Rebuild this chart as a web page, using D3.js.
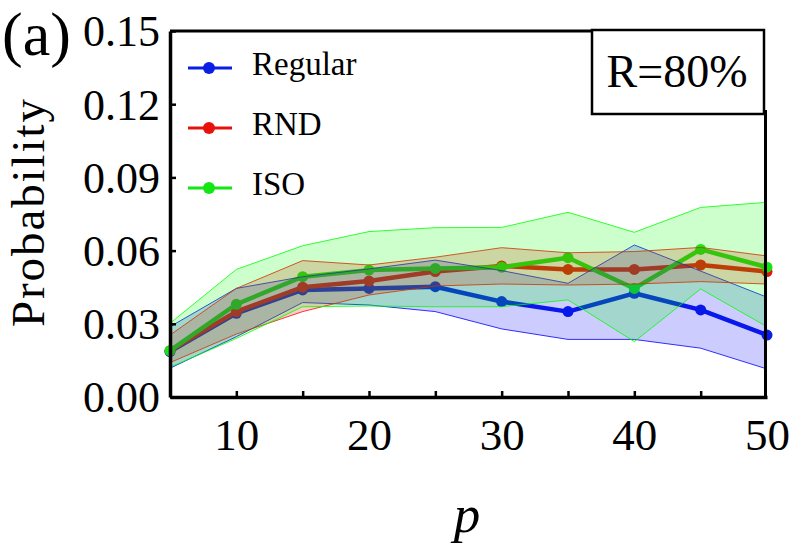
<!DOCTYPE html>
<html>
<head>
<meta charset="utf-8">
<script src="https://cdn.jsdelivr.net/npm/d3@7"></script>
<style>
body { margin:0; background:#fff; }
text { font-family: "Liberation Serif", serif; fill:#000; }
.axis path, .axis line { stroke:#000; }
</style>
</head>
<body>
<div id="chart"></div>
<script>
// x values (p)
var pVals = [5,10,15,20,25,30,35,40,45,50];

// mean probability per series
var regMean = [0.0186,0.0343,0.0439,0.0445,0.0452,0.0391,0.0350,0.0425,0.0357,0.0254];
var rndMean = [0.0190,0.0350,0.0450,0.0475,0.0514,0.0537,0.0523,0.0523,0.0541,0.0514];
var isoMean = [0.0190,0.0380,0.0493,0.0520,0.0527,0.0532,0.0571,0.0445,0.0605,0.0532];

// band limits
var regHi = [0.0288,0.0445,0.0493,0.0525,0.0561,0.0518,0.0466,0.0623,0.0516,0.0409];
var regLo = [0.0118,0.0247,0.0387,0.0377,0.0350,0.0279,0.0236,0.0236,0.0200,0.0115];
var rndHi = [0.0254,0.0445,0.0559,0.0541,0.0573,0.0612,0.0591,0.0596,0.0613,0.0578];
var rndLo = [0.0141,0.0258,0.0350,0.0418,0.0455,0.0463,0.0459,0.0463,0.0473,0.0463];
var isoHi = [0.0302,0.0523,0.0620,0.0678,0.0694,0.0695,0.0757,0.0675,0.0777,0.0798];
var isoLo = [0.0122,0.0240,0.0370,0.0373,0.0370,0.0370,0.0398,0.0227,0.0443,0.0288];

var seriesNames = ["Regular","RND","ISO"];
var yTicks = [0,0.03,0.06,0.09,0.12,0.15];
var xLabelTicks = [10,20,30,40,50];
var xMinorTicks = [10,15,20,25,30,35,40,45];

var width = 789, height = 560;
// plot edges (window.top is taken, so prefix them)
var pLeft = 170, pRight = 767, pTop = 31, pBottom = 397;

var svg = d3.select("#chart").append("svg")
    .attr("width", width)
    .attr("height", height);

var x = d3.scaleLinear().domain([5,50]).range([pLeft,pRight]);
var y = d3.scaleLinear().domain([0,0.15]).range([pBottom,pTop]);

var series = [
  {name:seriesNames[0], mean:regMean, hi:regHi, lo:regLo, color:"#0000ff", line:"#0a1ee6"},
  {name:seriesNames[1], mean:rndMean, hi:rndHi, lo:rndLo, color:"#ff0000", line:"#e8120c"},
  {name:seriesNames[2], mean:isoMean, hi:isoHi, lo:isoLo, color:"#00ff00", line:"#14e614"}
];

var line = d3.line()
    .x(function(d){ return x(d[0]); })
    .y(function(d){ return y(d[1]); });

var area = d3.area()
    .x(function(d){ return x(d[0]); })
    .y0(function(d){ return y(d[1]); })
    .y1(function(d){ return y(d[2]); });

// lines and points first, bands go on top of them
series.forEach(function(s){
  var pts = pVals.map(function(p,i){ return [p, s.mean[i]]; });
  svg.append("path")
     .attr("d", line(pts))
     .attr("fill","none")
     .attr("stroke", s.line)
     .attr("stroke-width", 4.5)
     .attr("stroke-linejoin","round");
  svg.selectAll(null).data(pts).enter().append("circle")
     .attr("cx", function(d){ return x(d[0]); })
     .attr("cy", function(d){ return y(d[1]); })
     .attr("r", 5.5)
     .attr("fill", s.line);
});

series.forEach(function(s){
  var band = pVals.map(function(p,i){ return [p, s.lo[i], s.hi[i]]; });
  svg.append("path")
     .attr("d", area(band))
     .attr("fill", s.color)
     .attr("fill-opacity", 0.2)
     .attr("stroke", "none");
  ["lo","hi"].forEach(function(k){
    svg.append("path")
       .attr("d", line(pVals.map(function(p,i){ return [p, s[k][i]]; })))
       .attr("fill","none")
       .attr("stroke", s.color)
       .attr("stroke-width", 0.8);
  });
});

// frame: top and right
svg.append("line").attr("x1",pLeft).attr("x2",592).attr("y1",pTop).attr("y2",pTop)
   .attr("stroke","#000").attr("stroke-width",3);
svg.append("line").attr("x1",765.5).attr("x2",765.5).attr("y1",110).attr("y2",pBottom)
   .attr("stroke","#000").attr("stroke-width",3);

// axes
var xAxis = svg.append("g").attr("class","axis")
    .attr("transform","translate(0," + pBottom + ")")
    .call(d3.axisBottom(x).tickValues(xMinorTicks).tickSize(-6).tickSizeOuter(0).tickFormat(""));
xAxis.select(".domain").attr("stroke-width",3.5);
xAxis.selectAll(".tick line").attr("stroke-width",2.5);

var xLab = svg.append("g")
    .attr("transform","translate(0," + pBottom + ")")
    .call(d3.axisBottom(x).tickValues(xLabelTicks).tickSize(0).tickPadding(21).tickFormat(d3.format("d")));
xLab.select(".domain").remove();
xLab.selectAll("text").attr("font-size",45).attr("font-family","Liberation Serif").attr("fill","#000").attr("dy","0.71em");

var yAxis = svg.append("g").attr("class","axis")
    .attr("transform","translate(" + pLeft + ",0)")
    .call(d3.axisLeft(y).tickValues(yTicks).tickSize(-6).tickSizeOuter(0).tickPadding(10).tickFormat(d3.format(".2f")));
yAxis.select(".domain").attr("stroke-width",3.5);
yAxis.selectAll(".tick line").attr("stroke-width",2.5);
yAxis.selectAll("text").attr("font-size",44).attr("font-family","Liberation Serif").attr("fill","#000").attr("dy","0.34em");

// axis titles
svg.append("text")
   .attr("transform","translate(44," + ((pTop+pBottom)/2 - 1) + ") rotate(-90)")
   .attr("text-anchor","middle")
   .attr("font-size",47)
   .attr("textLength",228)
   .attr("lengthAdjust","spacing")
   .text("Probability");

svg.append("text")
   .attr("x", 467)
   .attr("y", 532)
   .attr("text-anchor","middle")
   .attr("font-size",53)
   .attr("font-style","italic")
   .text("p");

svg.append("text")
   .attr("x", 2).attr("y", 55)
   .attr("font-size", 62)
   .text("(a)");

// R box
svg.append("rect")
   .attr("x",592).attr("y",30).attr("width",172).attr("height",84)
   .attr("fill","#fff").attr("stroke","#000").attr("stroke-width",2.5);
svg.append("text")
   .attr("x",677).attr("y",87)
   .attr("text-anchor","middle")
   .attr("font-size",46)
   .text("R=80%");

// legend
var legend = svg.selectAll(".leg").data(series).enter().append("g")
    .attr("transform", function(d,i){ return "translate(188," + (68 + i*60) + ")"; });
legend.append("line").attr("x1",0).attr("x2",44).attr("y1",0).attr("y2",0)
    .attr("stroke", function(d){ return d.line; }).attr("stroke-width",3);
legend.append("circle").attr("cx",21).attr("cy",0).attr("r",6)
    .attr("fill", function(d){ return d.line; });
legend.append("text").attr("x",64).attr("y",7)
    .attr("font-size",33)
    .text(function(d){ return d.name; });
</script>
</body>
</html>
